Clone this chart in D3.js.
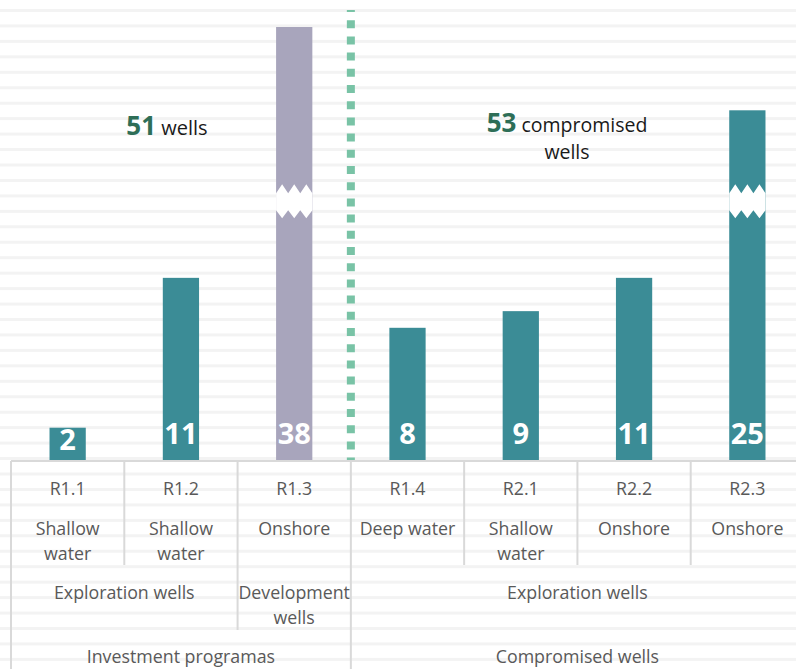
<!DOCTYPE html>
<html>
<head>
<meta charset="utf-8">
<script src="https://cdn.jsdelivr.net/npm/d3@7"></script>
<style>
  body { margin: 0; background: #fff; }
  svg { display: block; font-family: "Open Sans", sans-serif; }
</style>
</head>
<body>
<svg id="chart" width="796" height="669"></svg>
<script>
// data
var codes = ["R1.1", "R1.2", "R1.3", "R1.4", "R2.1", "R2.2", "R2.3"];
var wellTypes = [["Shallow", "water"], ["Shallow", "water"], ["Onshore"], ["Deep water"],
                 ["Shallow", "water"], ["Onshore"], ["Onshore"]];
var values = [2, 11, 38, 8, 9, 11, 25];
var broken = [false, false, true, false, false, false, true];
var kinds = ["Exploration", "Exploration", "Development", "Exploration", "Exploration", "Exploration", "Exploration"];

// grouping rows under the bars
var groups = [
  { label: ["Exploration wells"], from: 0, to: 1 },
  { label: ["Development", "wells"], from: 2, to: 2 },
  { label: ["Exploration wells"], from: 3, to: 6 }
];
var programs = [
  { label: "Investment programas", from: 0, to: 2 },
  { label: "Compromised wells", from: 3, to: 6 }
];
var totals = [
  { n: 51, lines: ["wells"], from: 0, to: 2 },
  { n: 53, lines: ["compromised", "wells"], from: 3, to: 6 }
];

var W = 796, H = 669;
var left = 11, right = 804;
var base = 461;
var unit = 16.65;      // px per well below the axis break
var knee = 18.6;       // values above this are compressed (broken bars)
var breakAt = 15.6;    // where the zigzag break is drawn

var colors = { Exploration: "#3b8c96", Development: "#a8a5bc" };
var gridCol = "#d9d9d9";
var textCol = "#595959";

var svg = d3.select("#chart");

// faint horizontal stripes in the background
svg.append("g").selectAll("rect")
  .data(d3.range(10, H, 15.45))
  .enter().append("rect")
  .attr("x", 0).attr("y", function(d) { return d - 1; })
  .attr("width", W).attr("height", 3)
  .attr("fill", "#f3f3f3");

var x = d3.scaleBand().domain(d3.range(codes.length)).range([left, right]);
var y = d3.scaleLinear()
  .domain([0, knee, 38])
  .range([base, base - knee * unit, 27]);

var barW = x.bandwidth() * 0.32;

// bars
svg.append("g").selectAll("rect")
  .data(values)
  .enter().append("rect")
  .attr("x", function(d, i) { return x(i) + (x.bandwidth() - barW) / 2; })
  .attr("y", function(d) { return y(d); })
  .attr("width", barW)
  .attr("height", function(d) { return base - y(d); })
  .attr("fill", function(d, i) { return colors[kinds[i]]; });

// zigzag break on the truncated bars
var by = y(breakAt);
function breakPath(x0, w) {
  var p = [[x0, by - 8]];
  for (var k = 0; k < 3; k++) {
    p.push([x0 + w * (k / 3 + 1 / 6), by - 17]);
    p.push([x0 + w * (k + 1) / 3, by - 8]);
  }
  p.push([x0 + w, by + 9]);
  for (var k = 2; k >= 0; k--) {
    p.push([x0 + w * (k / 3 + 1 / 6), by + 17]);
    p.push([x0 + w * k / 3, by + 9]);
  }
  return "M" + p.map(function(q) { return q.join(","); }).join("L") + "Z";
}
svg.append("g").selectAll("path")
  .data(values.map(function(v, i) { return i; }).filter(function(i) { return broken[i]; }))
  .enter().append("path")
  .attr("d", function(i) { return breakPath(x(i) + (x.bandwidth() - barW) / 2, barW); })
  .attr("fill", "#fff");

// value labels
svg.append("g").selectAll("text")
  .data(values)
  .enter().append("text")
  .attr("x", function(d, i) { return x(i) + x.bandwidth() / 2; })
  .attr("y", function(d) { return Math.max(base - 17, y(d) + 22); })
  .attr("text-anchor", "middle")
  .attr("font-size", 29)
  .attr("font-weight", "bold")
  .attr("fill", "#fff")
  .text(function(d) { return d; });

// dotted divider between the two programmes
var divX = x(programs[1].from);
svg.append("line")
  .attr("x1", divX).attr("x2", divX)
  .attr("y1", 10).attr("y2", base)
  .attr("stroke", "#79c3a6")
  .attr("stroke-width", 8)
  .attr("stroke-dasharray", "8 8.2")
  .attr("stroke-dashoffset", 6);

// totals annotations
var tot = svg.append("g");
var t1 = tot.append("text")
  .attr("x", 167).attr("y", 135)
  .attr("text-anchor", "middle");
t1.append("tspan").attr("font-size", 26).attr("font-weight", "bold").attr("fill", "#2e6e57").text(totals[0].n);
t1.append("tspan").attr("font-size", 20).attr("fill", "#1a1a1a").text(" " + totals[0].lines[0]);

var t2 = tot.append("text")
  .attr("x", 567).attr("y", 132)
  .attr("text-anchor", "middle");
t2.append("tspan").attr("font-size", 26).attr("font-weight", "bold").attr("fill", "#2e6e57").text(totals[1].n);
t2.append("tspan").attr("font-size", 19.5).attr("fill", "#1a1a1a").text(" " + totals[1].lines[0]);
tot.append("text")
  .attr("x", 567).attr("y", 159)
  .attr("text-anchor", "middle")
  .attr("font-size", 19.5).attr("fill", "#1a1a1a")
  .text(totals[1].lines[1]);

// table grid under the chart
var grid = svg.append("g").attr("stroke", gridCol).attr("stroke-width", 2);
grid.append("line").attr("x1", left).attr("x2", W).attr("y1", base).attr("y2", base);

function lineEnd(i) {
  // boundary on the left of column i
  if (programs.some(function(p) { return p.from === i; })) return H;
  if (groups.some(function(g) { return g.from === i; })) return 630;
  return 565;
}
grid.selectAll("line.v")
  .data(d3.range(codes.length))
  .enter().append("line")
  .attr("class", "v")
  .attr("x1", function(i) { return x(i); })
  .attr("x2", function(i) { return x(i); })
  .attr("y1", base)
  .attr("y2", function(i) { return lineEnd(i); });

var tab = svg.append("g").attr("fill", textCol).attr("font-size", 17.8).attr("text-anchor", "middle");

tab.selectAll("text.code")
  .data(codes)
  .enter().append("text")
  .attr("class", "code")
  .attr("x", function(d, i) { return x(i) + x.bandwidth() / 2; })
  .attr("y", 495)
  .text(function(d) { return d; });

wellTypes.forEach(function(lines, i) {
  lines.forEach(function(s, k) {
    tab.append("text")
      .attr("x", x(i) + x.bandwidth() / 2)
      .attr("y", 535 + k * 25)
      .text(s);
  });
});

groups.forEach(function(g) {
  var cx = (x(g.from) + x(g.to) + x.bandwidth()) / 2;
  g.label.forEach(function(s, k) {
    tab.append("text")
      .attr("x", cx)
      .attr("y", 599 + k * 25)
      .text(s);
  });
});

programs.forEach(function(p) {
  tab.append("text")
    .attr("x", (x(p.from) + x(p.to) + x.bandwidth()) / 2)
    .attr("y", 663)
    .text(p.label);
});
</script>
</body>
</html>
